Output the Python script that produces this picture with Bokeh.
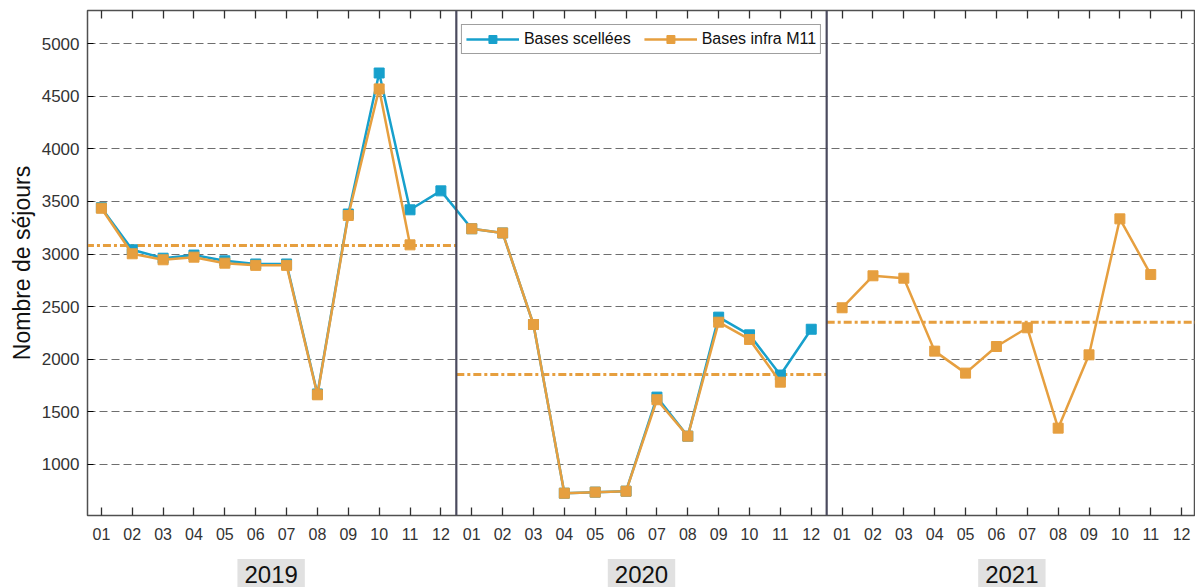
import numpy as np
from bokeh.plotting import figure
from bokeh.layouts import column
from bokeh.core.properties import value
from bokeh.models import ColumnDataSource, FixedTicker, LinearAxis, Span, Range1d
from bokeh.embed import file_html
from bokeh.resources import INLINE

# --- data -----------------------------------------------------------------
years = ["2019", "2020", "2021"]
months = ["01", "02", "03", "04", "05", "06", "07", "08", "09", "10", "11", "12"]

nan = float("nan")
# Nombre de séjours, bases scellées (2019-01 .. 2020-12)
scellees_2019 = [3440, 3040, 2960, 2990, 2935, 2905, 2905, 1670, 3380, 4720, 3420, 3600]
scellees_2020 = [3240, 3200, 2330, 727, 737, 746, 1640, 1269, 2400, 2232, 1850, 2285]
scellees_2021 = [nan] * 12

# Nombre de séjours, bases infra M11
infra_2019 = [3435, 3002, 2945, 2970, 2913, 2892, 2892, 1662, 3366, 4569, 3087, nan]
infra_2020 = [3240, 3200, 2330, 727, 737, 746, 1615, 1269, 2352, 2188, 1782, nan]
infra_2021 = [2489, 2793, 2770, 2077, 1868, 2121, 2299, 1345, 2042, 3334, 2805, nan]

# yearly mean of the infra M11 series
infra_mean = [3081, 1855, 2352]

# --- layout helpers ---------------------------------------------------------
n_years = len(years)
idx = np.arange(12 * n_years)
scellees = scellees_2019 + scellees_2020 + scellees_2021
infra = infra_2019 + infra_2020 + infra_2021

BLUE = "#17a0cc"
ORANGE = "#e69f3f"
TXT = "#333333"
FONT = "Liberation Sans"

x_range = Range1d(-0.45, 12 * n_years - 0.55)

p = figure(width=1195, height=555, output_backend="svg", toolbar_location=None,
           x_range=x_range, y_range=Range1d(515, 5314),
           min_border_left=87, min_border_right=0, min_border_top=10, min_border_bottom=40,
           background_fill_color="white", border_fill_color="white")
p.xgrid.visible = False
p.ygrid.grid_line_color = "#6e6e6e"
p.ygrid.grid_line_dash = "8 4"
p.ygrid.grid_line_width = 1
p.outline_line_color = "#505050"
p.outline_line_width = 1.5

# bottom axis: month labels
p.xaxis.ticker = FixedTicker(ticks=list(idx))
p.xaxis.major_label_overrides = {int(i): months[i % 12] for i in idx}
p.xaxis.major_tick_in = 8
p.xaxis.major_tick_out = 0
p.xaxis.minor_tick_line_color = None
p.xaxis.major_label_standoff = 12
p.xaxis.major_label_text_font = FONT
p.xaxis.major_label_text_font_size = "16px"
p.xaxis.major_label_text_color = TXT
p.xaxis.axis_line_color = "#505050"
p.xaxis.major_tick_line_color = "#303030"
p.xaxis.major_tick_line_width = 1.3

# left axis
p.yaxis.ticker = FixedTicker(ticks=[1000, 1500, 2000, 2500, 3000, 3500, 4000, 4500, 5000])
p.yaxis.major_tick_in = 6
p.yaxis.major_tick_out = 0
p.yaxis.minor_tick_line_color = None
p.yaxis.major_label_standoff = 8
p.yaxis.major_label_text_font = FONT
p.yaxis.major_label_text_font_size = "17px"
p.yaxis.major_label_text_color = TXT
p.yaxis.axis_line_color = "#505050"
p.yaxis.axis_label = "Nombre de séjours"
p.yaxis.axis_label_text_font = FONT
p.yaxis.axis_label_text_font_size = "23px"
p.yaxis.axis_label_text_font_style = "normal"
p.yaxis.axis_label_text_color = "#111111"
p.yaxis.axis_label_standoff = 4

# top axis: inward ticks only, blank labels
top = LinearAxis(ticker=FixedTicker(ticks=list(idx)), major_tick_in=8, major_tick_out=0,
                 minor_tick_line_color=None,
                 major_label_overrides={int(i): "" for i in idx},
                 major_label_standoff=0, axis_line_color="#505050",
                 major_tick_line_color="#303030", major_tick_line_width=1.3)
p.add_layout(top, "above")

# year separators
for k in range(1, n_years):
    p.add_layout(Span(location=12 * k - 0.5, dimension="height",
                      line_color="#4b4b5e", line_width=2.2))

# yearly mean lines (dash-dot)
mean_src = ColumnDataSource(dict(x0=[12 * k - 0.5 for k in range(n_years)],
                                 x1=[12 * (k + 1) - 0.5 for k in range(n_years)],
                                 y=infra_mean))
p.segment(x0="x0", y0="y", x1="x1", y1="y", source=mean_src,
          line_color=ORANGE, line_width=3, line_dash="8 3 3 3")

# series
src = ColumnDataSource(dict(x=idx, s=scellees, i=infra))
p.line("x", "s", source=src, line_color=BLUE, line_width=2.5, legend_label="Bases scellées")
p.scatter("x", "s", source=src, marker="square", size=10, fill_color=BLUE,
          line_color=BLUE, legend_label="Bases scellées")
p.line("x", "i", source=src, line_color=ORANGE, line_width=2.5, legend_label="Bases infra M11")
p.scatter("x", "i", source=src, marker="square", size=10, fill_color=ORANGE,
          line_color=ORANGE, legend_label="Bases infra M11")

# legend
lg = p.legend[0]
lg.location = "top_center"
lg.orientation = "horizontal"
lg.margin = 14
lg.padding = 4
lg.spacing = 13
lg.glyph_width = 53
lg.glyph_height = 20
lg.label_height = 20
lg.label_standoff = 5
lg.label_text_font = FONT
lg.label_text_font_size = "16px"
lg.label_text_color = "#111111"
lg.border_line_color = "#404040"
lg.border_line_width = 1
lg.background_fill_color = "white"
lg.background_fill_alpha = 1

# strip of year labels under the month axis, sharing the x range
yr_fig = figure(width=1195, height=32, output_backend="svg", toolbar_location=None,
                x_range=x_range, y_range=Range1d(0, 32),
                min_border_left=87, min_border_right=0, min_border_top=0, min_border_bottom=0,
                outline_line_color=None, background_fill_color="white",
                border_fill_color="white")
yr_fig.axis.visible = False
yr_fig.grid.visible = False
yr_src = ColumnDataSource(dict(x=[12 * k + 5.5 for k in range(n_years)],
                               y=[13] * n_years, t=years))
yr_fig.text("x", "y", text="t", source=yr_src, text_align="center",
            text_baseline="middle", text_font=value(FONT),
            text_font_size="24px", text_color="#111111",
            background_fill_color="#e1e1e1", padding=7)

layout = column(p, yr_fig, spacing=0)
open("out.html", "w").write(file_html(layout, INLINE))
